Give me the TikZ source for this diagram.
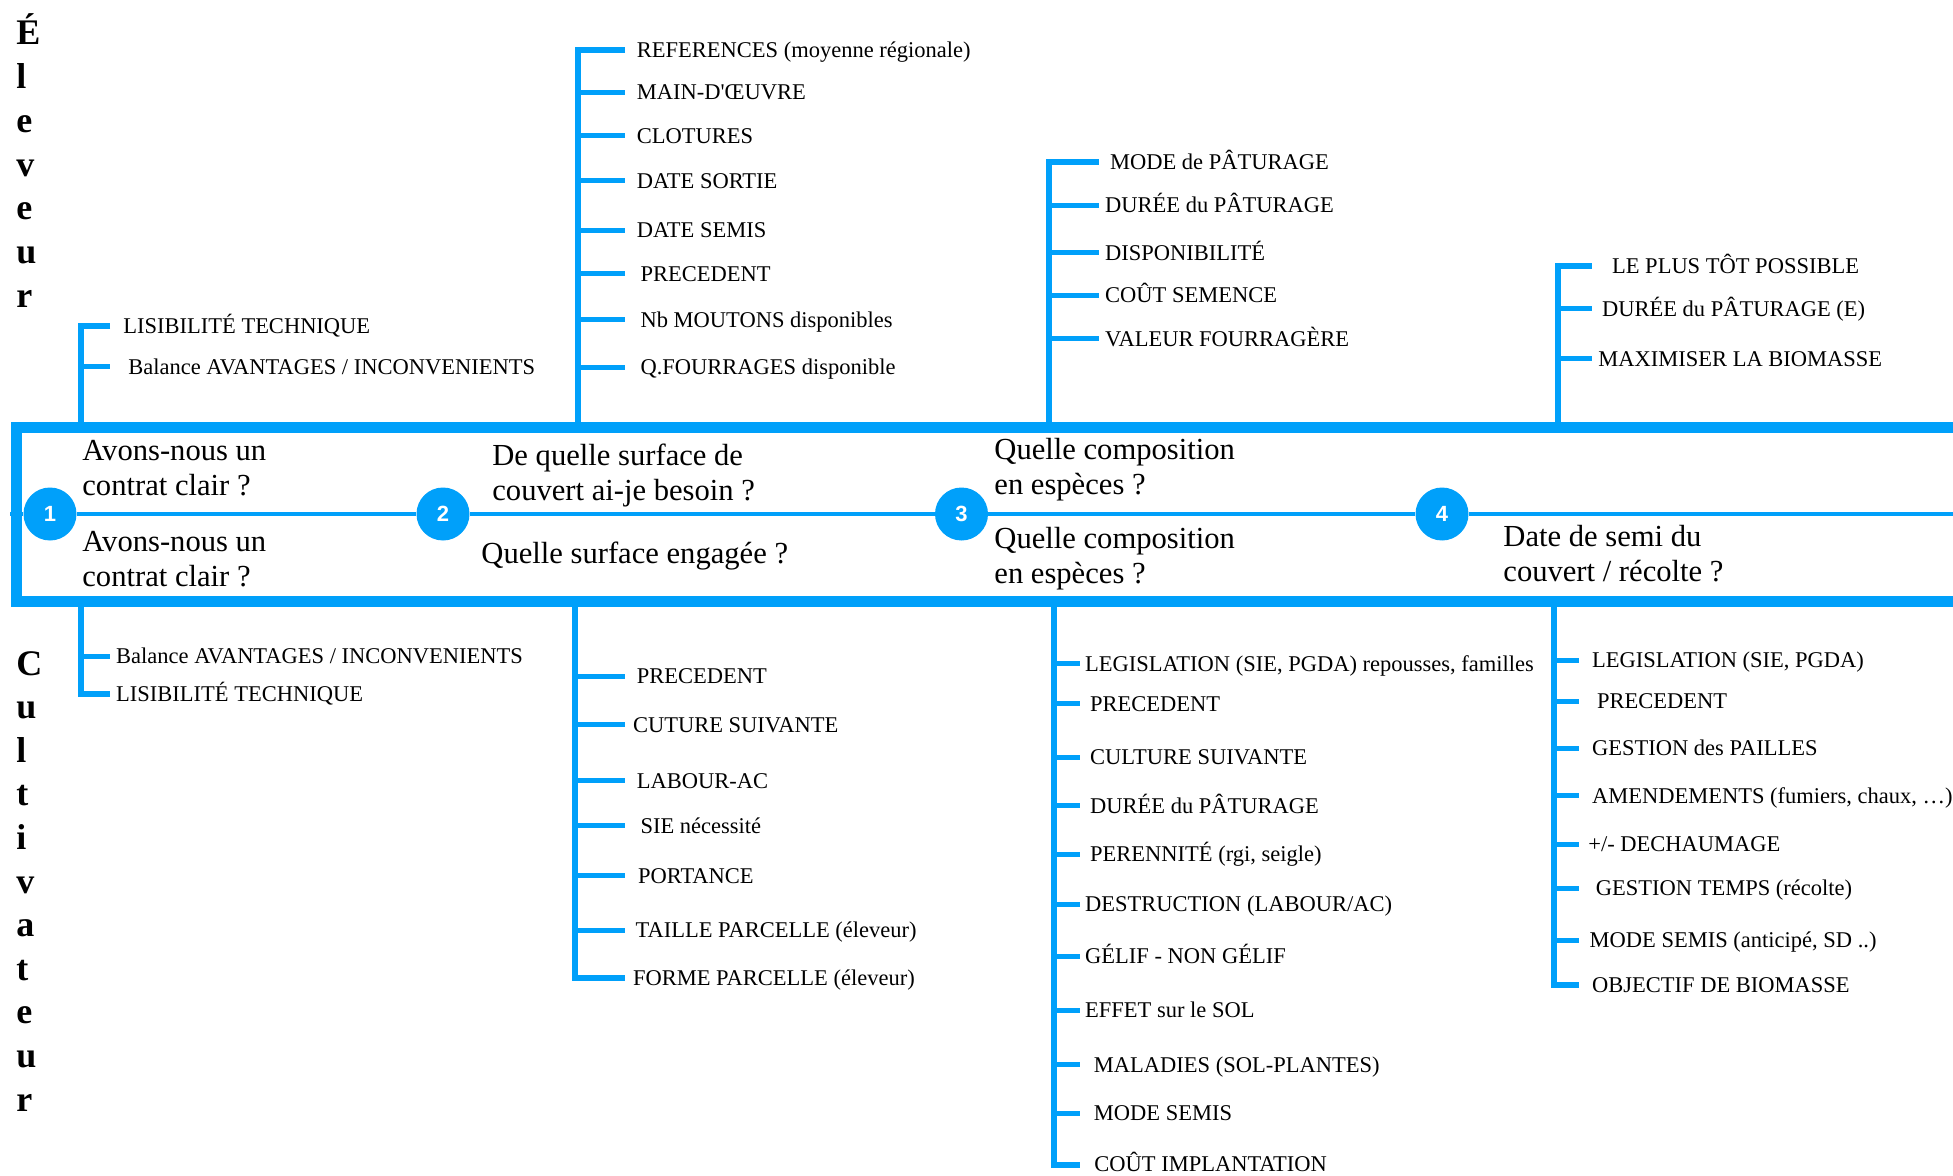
\documentclass[tikz,border=0pt]{standalone}
\usepackage{fontspec}
\setmainfont{Liberation Serif}
\newfontfamily\numfont{Liberation Sans}
\definecolor{fishblue}{HTML}{00A0FA}
\tikzset{
  item/.style={anchor=west, inner sep=0pt, text height=7.45pt, text depth=0pt, font=\fontsize{11.25}{13}\selectfont},
  qtext/.style={anchor=base west, inner sep=0pt, font=\fontsize{15.3}{17.5}\selectfont},
  vlet/.style={anchor=base west, inner sep=0pt, font=\fontsize{18}{20}\selectfont\bfseries},
  num/.style={circle, fill=fishblue, minimum size=26.5pt, inner sep=0pt, text=white, font=\fontsize{11}{12}\numfont\bfseries},
  spine/.style={draw=fishblue, line width=3pt},
  tickline/.style={draw=fishblue, line width=2.5pt},
  framebox/.style={draw=fishblue, line width=5.5pt},
  midline/.style={draw=fishblue, line width=2pt},
}
\begin{document}
\begin{tikzpicture}[x=0.5pt, y=-0.5pt]
\useasboundingbox (0,0) rectangle (1953,1176);
\clip (0,0) rectangle (1953,1176);
\fill[white] (0,0) rectangle (1953,1176);

% vertical labels
\foreach \l [count=\i] in {É,l,e,v,e,u,r}
  \node[vlet] (el\i) at (16,{45+43.7*(\i-1)}) {\l};
\foreach \l [count=\i] in {C,u,l,t,i,v,a,t,e,u,r}
  \node[vlet] (cu\i) at (16,{675+43.6*(\i-1)}) {\l};

% frame and midline
\draw[framebox] (1965,427) -- (16,427) -- (16,601) -- (1965,601);
\coordinate (mL) at (10,514);
\coordinate (mR) at (1965,514);
\node[num] (n1) at (50,514) {1};
\node[num] (n2) at (443,514) {2};
\node[num] (n3) at (961.5,514) {3};
\node[num] (n4) at (1442,514) {4};
\draw[midline] (mL) -- (n1) (n1) -- (n2) (n2) -- (n3) (n3) -- (n4) (n4) -- (mR);

% questions
\node[qtext] (q1a) at (82,460) {Avons-nous un};
\node[qtext] (q1b) at (82,495) {contrat clair ?};
\node[qtext] (q1c) at (82,551) {Avons-nous un};
\node[qtext] (q1d) at (82,586) {contrat clair ?};
\node[qtext] (q2a) at (492,465) {De quelle surface de};
\node[qtext] (q2b) at (492,500) {couvert ai-je besoin ?};
\node[qtext] (q2c) at (481,563) {Quelle surface engagée ?};
\node[qtext] (q3a) at (994,459) {Quelle composition};
\node[qtext] (q3b) at (994,494) {en espèces ?};
\node[qtext] (q3c) at (994,548) {Quelle composition};
\node[qtext] (q3d) at (994,583) {en espèces ?};
\node[qtext] (q4a) at (1503,546) {Date de semi du};
\node[qtext] (q4b) at (1503,581) {couvert / récolte ?};

% ---------- upper branch A
\coordinate (sA) at (81,426);
\coordinate (eA) at (110,0);
\node[item] (A1) at (123,326) {LISIBILITÉ TECHNIQUE};
\node[item] (A2) at (128,367) {Balance AVANTAGES / INCONVENIENTS};
\draw[spine] (A1.west -| eA) -| (sA);
\draw[tickline] (A2.west -| sA) -- (A2.west -| eA);

% ---------- upper branch B
\coordinate (sB) at (578,426);
\coordinate (eB) at (625,0);
\node[item] (B1) at (636.5,49.8) {REFERENCES (moyenne régionale)};
\node[item] (B2) at (636.5,92.2) {MAIN-D\textquotesingle ŒUVRE};
\node[item] (B3) at (636.5,135.8) {CLOTURES};
\node[item] (B4) at (636.5,180.6) {DATE SORTIE};
\node[item] (B5) at (636.5,230.4) {DATE SEMIS};
\node[item] (B6) at (640.2,274) {PRECEDENT};
\node[item] (B7) at (640.2,320) {Nb MOUTONS disponibles};
\node[item] (B8) at (640.2,367.4) {Q.FOURRAGES disponible};
\draw[spine] (B1.west -| eB) -| (sB);
\foreach \k in {2,...,8}
  \draw[tickline] (B\k.west -| sB) -- (B\k.west -| eB);

% ---------- upper branch C
\coordinate (sC) at (1048.7,426);
\coordinate (eC) at (1098.5,0);
\node[item] (C1) at (1109.7,161.9) {MODE de PÂTURAGE};
\node[item] (C2) at (1104.8,205.5) {DURÉE du PÂTURAGE};
\node[item] (C3) at (1104.8,252.8) {DISPONIBILITÉ};
\node[item] (C4) at (1104.8,295.2) {COÛT SEMENCE};
\node[item] (C5) at (1104.8,338.8) {VALEUR FOURRAGÈRE};
\draw[spine] (C1.west -| eC) -| (sC);
\foreach \k in {2,...,5}
  \draw[tickline] (C\k.west -| sC) -- (C\k.west -| eC);

% ---------- upper branch D
\coordinate (sD) at (1558,426);
\coordinate (eD) at (1591.7,0);
\node[item] (D1) at (1611.7,266.5) {LE PLUS TÔT POSSIBLE};
\node[item] (D2) at (1601.7,308.9) {DURÉE du PÂTURAGE (E)};
\node[item] (D3) at (1598,358.7) {MAXIMISER LA BIOMASSE};
\draw[spine] (D1.west -| eD) -| (sD);
\foreach \k in {2,3}
  \draw[tickline] (D\k.west -| sD) -- (D\k.west -| eD);

% ---------- lower branch a
\coordinate (sa) at (81,601);
\coordinate (ea) at (110,0);
\node[item] (a1) at (115.8,656.4) {Balance AVANTAGES / INCONVENIENTS};
\node[item] (a2) at (115.8,693.7) {LISIBILITÉ TECHNIQUE};
\draw[spine] (sa) |- (a2.west -| ea);
\draw[tickline] (a1.west -| sa) -- (a1.west -| ea);

% ---------- lower branch b
\coordinate (sb) at (575.4,601);
\coordinate (eb) at (625,0);
\node[item] (b1) at (636.5,676.3) {PRECEDENT};
\node[item] (b2) at (632.7,724.9) {CUTURE SUIVANTE};
\node[item] (b3) at (636.5,780.9) {LABOUR-AC};
\node[item] (b4) at (640.2,825.8) {SIE nécessité};
\node[item] (b5) at (637.7,875.6) {PORTANCE};
\node[item] (b6) at (635.2,930.4) {TAILLE PARCELLE (éleveur)};
\node[item] (b7) at (632.7,977.7) {FORME PARCELLE (éleveur)};
\draw[spine] (sb) |- (b7.west -| eb);
\foreach \k in {1,...,6}
  \draw[tickline] (b\k.west -| sb) -- (b\k.west -| eb);

% ---------- lower branch c
\coordinate (sc) at (1053.7,601);
\coordinate (ec) at (1080,0);
\node[item] (c1) at (1084.8,663.9) {LEGISLATION (SIE, PGDA) repousses, familles};
\node[item] (c2) at (1089.8,703.7) {PRECEDENT};
\node[item] (c3) at (1089.8,757.3) {CULTURE SUIVANTE};
\node[item] (c4) at (1089.8,805.8) {DURÉE du PÂTURAGE};
\node[item] (c5) at (1089.8,854.4) {PERENNITÉ (rgi, seigle)};
\node[item] (c6) at (1084.8,904.2) {DESTRUCTION (LABOUR/AC)};
\node[item] (c7) at (1084.8,956.5) {GÉLIF - NON GÉLIF};
\node[item] (c8) at (1084.8,1010.1) {EFFET sur le SOL};
\node[item] (c9) at (1093.5,1064.9) {MALADIES (SOL-PLANTES)};
\node[item] (c10) at (1093.5,1113.5) {MODE SEMIS};
\node[item] (c11) at (1094,1164.5) {COÛT IMPLANTATION};
\draw[spine] (sc) |- (c11.west -| ec);
\foreach \k in {1,...,10}
  \draw[tickline] (c\k.west -| sc) -- (c\k.west -| ec);

% ---------- lower branch d
\coordinate (sd) at (1554.4,601);
\coordinate (ed) at (1579.3,0);
\node[item] (d1) at (1591.7,660.1) {LEGISLATION (SIE, PGDA)};
\node[item] (d2) at (1596.7,701.2) {PRECEDENT};
\node[item] (d3) at (1591.7,748.5) {GESTION des PAILLES};
\node[item] (d4) at (1591.7,795.9) {AMENDEMENTS (fumiers, chaux, …)};
\node[item] (d5) at (1588,844.4) {+/- DECHAUMAGE};
\node[item] (d6) at (1595.5,888) {GESTION TEMPS (récolte)};
\node[item] (d7) at (1589.3,940.3) {MODE SEMIS (anticipé, SD ..)};
\node[item] (d8) at (1591.7,985.2) {OBJECTIF DE BIOMASSE};
\draw[spine] (sd) |- (d8.west -| ed);
\foreach \k in {1,...,7}
  \draw[tickline] (d\k.west -| sd) -- (d\k.west -| ed);
\end{tikzpicture}
\end{document}
